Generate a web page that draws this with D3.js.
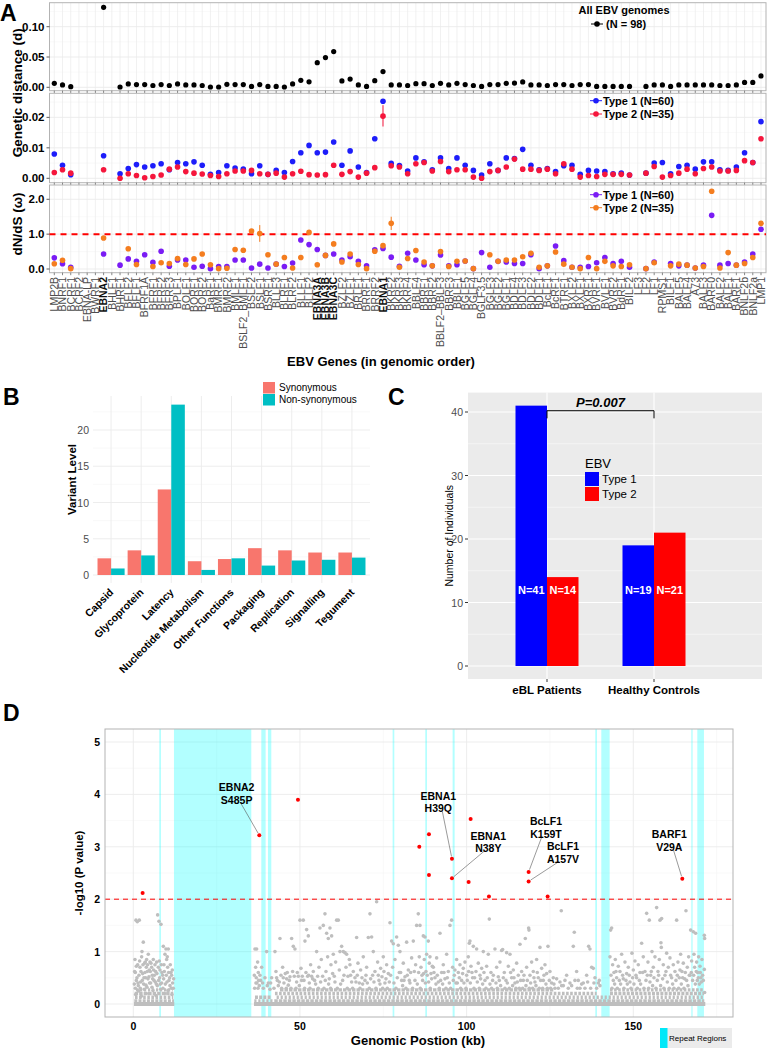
<!DOCTYPE html>
<html><head><meta charset="utf-8">
<script src="https://cdn.jsdelivr.net/npm/d3@7"></script>
<style>
body{margin:0;background:#fff;}
svg{font-family:"Liberation Sans",Arial,Helvetica,sans-serif;}
</style></head><body><svg id="c" width="767" height="1049"></svg>
<script>
// ---------------- DATA: Panel A ----------------
const genes = ["LMP2B","BNRF1","BCRF1","BCRF2","EBNA-LP","BWRF1","EBNA2","BHLF1","BHRF1","BFLF2","BFLF1","BFRF1A","BFRF1","BFRF2","BFRF3","BPLF1","BOLF1","BORF1","BORF2","BaRF1","BMRF1","BMRF2","BMLF1","BSLF2_BMLF1","BSLF2","BSLF1","BSRF1","BLLF3","BLRF1","BLRF2","BLLF1","BLLF2","EBNA3A","EBNA3B","EBNA3C","BZLF2","BZLF1","BRLF1","BRRF1","BRRF2","EBNA1","BKRF2","BKRF3","BKRF4","BBLF4","BBRF1","BBRF2","BBLF2–BBLF3","BBRF3","BBLF1","BGLF5","BGLF4","BGLF3.5","BGLF3","BGLF2","BGLF1","BDLF4","BDLF3","BDLF2","BDLF1","BcLF1","BcRF1","BTRF1","BXLF2","BXLF1","BXRF1","BVRF1","BVLF1","BVRF2","BdRF1","BILF2","LF3","LF2","LF1","RPMS1","BILF1","BALF5","BALF4","A73","BALF3","BARF0","BALF2","BALF1","BARF1","BNLF2b","BNLF2a","LMP1"];
const boldGenes = ["EBNA2","EBNA3A","EBNA3B","EBNA3C","EBNA1"];
const allD = [0.0066,0.004,0.001,null,null,null,0.132,null,0.0005,0.0055,
 0.0045,0.0045,0.003,0.0045,0.003,0.0055,0.004,0.004,0.003,0.0005,
 0.0005,0.005,0.0045,0.0045,0.0015,0.0045,0.0015,0.0015,0.0005,0.0055,
 0.0115,0.009,0.0407,0.049,0.059,0.0105,0.0135,0.004,0.0015,0.011,
 0.026,0.004,0.004,0.003,0.006,0.006,0.003,0.0066,0.004,0.0066,
 0.0045,0.003,0.0015,0.0045,0.0045,0.0066,0.007,0.0088,0.004,0.004,
 0.003,0.0045,0.0045,0.003,0.0045,0.0045,0.0015,0.0015,0.0015,0.0015,
 0.0015,null,0.0015,0.004,0.004,0.0015,0.004,0.004,0.004,0.004,
 0.004,0.003,0.003,0.004,0.008,0.008,0.0187];
const type1D = [0.0080,0.0043,0.0012,null,null,null,0.0074,null,0.0015,0.0032,
 0.0045,0.0037,0.0041,0.0048,0.0028,0.0052,0.0048,0.0054,0.0043,0.0013,
 0.0019,0.0041,0.0034,0.0030,0.0015,0.0041,0.0013,0.0026,0.0019,0.0055,
 0.0084,0.0108,0.0084,0.0086,0.0119,0.0043,0.0090,0.0037,0.0019,0.0130,
 0.0253,0.0049,0.0042,0.0024,0.0067,0.0054,0.0028,0.0067,0.0032,0.0067,
 0.0043,0.0026,0.0011,0.0048,0.0026,0.0067,0.0065,0.0095,0.0043,0.0028,
 0.0032,0.0022,0.0041,0.0043,0.0013,0.0026,0.0024,0.0022,0.0015,0.0017,
 0.0011,null,0.0017,0.0050,0.0052,0.0015,0.0039,0.0043,0.0030,0.0054,
 0.0054,0.0028,0.0026,0.0037,0.0084,0.0052,0.0186];
const type2D = [0.0019,0.0028,0.0017,null,null,null,0.0028,null,0.0000,0.0015,
 0.0009,0.0002,0.0006,0.0011,0.0030,0.0037,0.0022,0.0017,0.0014,0.0009,
 0.0006,0.0015,0.0024,0.0024,0.0026,0.0015,0.0013,0.0017,0.0004,0.0015,
 0.0023,0.0012,0.0011,0.0012,0.0043,0.0013,0.0022,0.0004,0.0017,0.0035,
 0.0204,0.0041,0.0037,0.0015,0.0048,0.0052,0.0024,0.0055,0.0022,0.0028,
 0.0028,0.0004,0.0000,0.0022,0.0026,0.0037,0.0063,0.0030,0.0030,0.0026,
 0.0030,0.0015,0.0048,0.0030,0.0004,0.0009,0.0006,0.0013,0.0013,0.0013,
 0.0011,null,0.0017,0.0039,0.0004,0.0009,0.0017,0.0030,0.0015,0.0032,
 0.0037,0.0024,0.0024,0.0026,0.0058,0.0052,0.0130];
const type1W = [0.32,0.15,0.05,null,null,null,0.43,null,0.11,0.29,
 0.22,0.41,0.19,0.51,0.08,0.26,0.26,0.05,0.08,0.01,
 0.07,0.07,0.26,0.26,0.03,0.14,0.03,0.14,0.07,0.17,
 0.83,0.70,0.56,0.39,0.43,0.26,0.35,0.22,0.09,0.55,
 0.59,0.34,0.08,0.45,0.26,0.12,0.09,0.40,0.09,0.12,
 0.23,0.01,0.47,0.05,0.22,0.20,0.16,0.16,0.41,0.01,
 0.09,0.66,0.24,0.05,0.05,0.07,0.18,0.33,0.16,0.22,
 0.05,null,0.01,0.20,null,0.16,0.09,0.11,0.03,0.11,
 1.54,0.11,0.16,0.11,0.20,0.43,1.14];
const type2W = [0.15,0.25,0.01,null,null,null,0.89,null,null,0.58,
 0.13,null,0.07,0.18,0.16,0.30,0.13,0.29,0.43,0.12,
 0.01,0.02,0.56,0.54,1.09,1.02,0.41,0.14,0.33,0.03,
 0.33,1.05,0.12,0.39,0.72,0.20,0.43,0.13,0.01,0.51,
 0.67,1.31,0.05,0.30,0.53,0.20,0.09,0.50,0.07,0.22,
 0.23,0.01,null,0.41,0.22,0.26,0.26,0.35,0.45,0.05,
 0.09,0.49,0.14,0.05,0.01,0.33,0.01,0.22,0.09,0.07,
 0.12,null,0.01,0.18,null,0.09,0.14,0.11,0.03,0.07,
 2.23,0.03,0.47,0.11,0.16,0.33,1.31];
const errType2D = [["EBNA1",0.0170,0.0240]];
const errType2W = [["BSLF1",0.78,1.26],["BKRF2",1.12,1.50]];
const ticksAll = [0,0.05,0.10], ticksType = [0,0.01,0.02], ticksW = [0,1,2];

// ---------------- DATA: Panel B ----------------
const funcCats = ["Capsid","Glycoprotein","Latency","Nucleotide Metabolism","Other Functions","Packaging","Replication","Signalling","Tegument"];
const synVals = [2.3,3.4,11.8,1.9,2.2,3.7,3.4,3.1,3.1];
const nonSynVals = [0.9,2.7,23.5,0.7,2.3,1.3,2.0,2.1,2.4];
const ticksB = [0,5,10,15,20];

// ---------------- DATA: Panel C ----------------
const groupsC = ["eBL Patients","Healthy Controls"];
const type1Counts = [41,19];
const type2Counts = [14,21];
const ticksC = [0,10,20,30,40];

// ---------------- DATA: Panel D ----------------
const repeatRegions = [[7.8,8.3],[12.2,35.4],[38.4,39.7],[40.4,41.4],[77.8,78.3],[87.6,88.1],[95.8,96.4],[138.6,139.1],[140.4,142.9],[167.4,167.8],[169.2,171.2]];
const zeroRuns = [[0.2,12.3],[36.2,171.6]];
const lowBands = [[0.06,0.3,12.2],[0.06,36.3,41.8],[0.06,42.3,171.3],[0.13,0.5,12],[0.13,36.5,41.5],[0.13,43,171],[0.2,0.4,12],[0.2,42.5,139],[0.2,143,171.2],[0.27,0.8,11.8],[0.27,44,126],[0.27,143,171]];
const grayPtsStr = "0.3,0.38 0.5,0.85 0.6,0.6 0.8,1.6 0.9,0.45 1.2,1.57 1.3,0.75 1.5,0.35 1.7,0.55 1.8,1.6 2.0,0.7 2.2,0.42 2.5,0.9 2.6,1.0 2.8,0.58 3.0,1.18 3.2,0.5 3.4,0.78 3.6,0.8 3.8,0.36 4.0,0.85 4.2,0.62 4.4,0.48 4.5,0.95 4.8,0.65 5.0,0.8 5.2,0.4 5.5,0.7 5.7,0.55 6.0,0.85 6.2,0.45 6.5,0.75 6.7,0.62 6.9,0.38 7.0,0.8 7.3,1.7 7.5,0.7 7.7,1.58 7.9,0.5 8.0,0.65 8.3,1.52 8.5,0.4 8.8,0.55 9.0,1.1 9.2,0.75 9.5,0.95 9.8,1.05 10.0,0.85 10.2,0.9 10.5,1.05 10.7,0.45 11.0,0.35 11.3,0.6 11.5,0.55 11.8,0.4 12.0,0.3 0.7,0.18 1.6,0.25 2.4,0.15 3.3,0.28 4.6,0.2 5.9,0.26 6.8,0.16 8.2,0.28 9.4,0.2 10.4,0.26 11.6,0.18 " +
"36.3,0.55 36.5,1.05 36.8,0.4 37.0,1.05 37.3,0.8 37.5,0.6 37.8,0.35 38.2,0.45 38.5,0.7 39.0,0.3 40.0,1.0 40.5,0.4 41.0,0.28 41.5,0.5 " +
"42.5,1.0 42.8,0.62 43.2,0.45 43.5,0.35 44.0,1.25 44.3,0.55 44.8,0.7 45.2,0.4 45.6,0.58 46.0,0.48 46.5,0.36 47.0,0.52 47.5,1.25 47.8,0.62 48.0,1.1 48.3,0.53 48.5,1.05 49.0,0.42 49.5,0.53 50.0,1.6 50.3,0.68 50.7,0.53 51.0,1.6 51.2,0.45 51.5,1.2 51.8,0.6 52.0,1.42 52.3,0.53 52.5,1.3 52.8,0.4 53.2,0.75 53.5,0.53 54.0,0.62 54.4,0.45 55.0,1.0 55.3,0.53 55.7,0.7 56.0,1.45 56.4,0.85 56.8,0.53 57.0,1.5 57.5,1.72 57.8,0.62 58.0,1.35 58.3,0.9 58.5,1.25 58.8,0.48 59.0,1.45 59.3,0.75 59.5,1.3 59.8,0.58 60.0,0.95 60.3,0.53 60.7,0.8 61.0,1.6 61.5,1.6 61.8,0.65 62.0,1.0 62.5,1.1 62.8,0.45 63.0,1.0 63.5,0.98 63.8,0.7 64.0,0.95 64.4,0.53 64.8,0.85 65.0,0.75 65.5,0.42 66.0,0.62 66.5,0.5 67.0,1.27 67.4,0.78 67.8,0.4 68.2,0.65 68.6,0.5 69.0,0.9 69.5,0.45 70.0,0.7 70.5,1.27 71.0,1.72 71.5,1.28 71.8,0.55 72.0,1.0 72.5,0.62 73.0,1.95 73.3,0.8 73.7,0.45 74.2,0.68 74.6,0.52 75.0,0.9 75.5,0.4 76.0,0.75 76.5,0.58 77.0,1.55 77.5,1.2 77.8,0.7 78.0,1.15 78.5,0.85 79.0,1.28 79.5,1.12 79.8,0.6 80.0,1.0 80.5,0.45 81.0,0.78 81.5,0.52 82.0,1.18 82.5,0.65 83.0,0.4 83.5,0.88 84.0,1.2 84.3,0.62 84.7,0.75 85.0,1.5 85.5,1.72 85.8,0.9 86.0,1.5 86.3,0.7 86.6,0.55 87.0,1.3 87.3,0.85 87.5,1.28 87.8,0.62 88.0,0.95 88.5,1.2 88.8,0.78 89.0,0.9 89.3,0.58 89.7,0.72 90.0,0.7 90.5,0.5 91.0,0.88 91.5,0.42 92.0,1.35 92.5,0.6 93.0,0.75 93.5,0.48 94.0,0.95 94.5,0.62 95.0,1.5 95.5,1.6 95.8,0.7 96.3,0.55 96.8,0.4 97.0,0.85 97.5,0.6 98.0,0.75 98.5,0.45 99.0,0.68 99.5,0.8 100.0,0.55 100.5,0.9 100.8,1.16 101.0,1.2 101.3,0.72 101.6,0.6 102.0,1.1 102.4,0.5 103.0,1.05 103.5,0.78 104.0,0.55 104.5,0.68 105.0,1.0 105.5,0.45 106.0,0.72 106.5,0.95 106.8,1.62 107.3,0.6 107.8,0.45 108.5,1.05 109.0,0.7 109.5,0.52 110.0,0.8 110.5,1.02 110.8,1.04 111.3,0.6 111.8,0.45 112.0,0.98 112.5,0.72 113.0,0.95 113.5,0.5 114.0,0.65 114.5,0.4 115.0,0.78 115.5,0.55 116.0,1.14 116.5,0.62 117.0,0.45 117.6,1.25 118.0,0.7 118.6,1.45 118.7,1.41 119.0,0.55 119.5,0.8 120.0,0.62 120.5,0.42 121.0,0.85 121.5,0.5 122.0,1.08 122.5,0.68 123.0,0.45 123.5,0.75 124.0,0.58 124.4,1.1 125.0,0.62 125.5,0.4 126.0,0.5 126.5,0.3 127.0,0.48 128.0,0.42 128.4,1.78 129.0,0.35 130.0,0.55 131.0,0.4 132.0,1.1 132.3,1.37 133.0,0.62 133.5,0.45 134.0,0.3 135.0,0.4 136.0,0.55 136.6,1.1 137.0,1.05 137.5,0.7 138.0,0.68 138.5,0.5 139.5,0.4 140.0,0.35 " +
"143.0,0.9 143.2,1.41 143.5,1.45 143.8,0.75 144.2,0.6 144.6,0.85 145.0,0.5 145.5,0.72 146.0,0.62 146.5,0.95 147.0,0.48 147.5,0.8 148.0,0.58 148.5,0.7 149.0,0.42 149.6,0.97 150.0,0.65 150.5,0.82 151.0,0.5 151.5,0.75 152.0,0.6 152.5,1.16 153.0,0.9 153.5,0.62 154.0,1.73 154.4,0.8 154.8,1.6 155.2,0.55 155.6,1.0 156.0,0.7 156.5,0.9 157.0,1.84 157.4,0.62 157.8,0.85 158.0,1.6 158.3,1.17 158.4,1.08 158.5,1.63 159.0,0.75 159.5,0.55 160.0,0.97 160.5,0.7 161.0,0.88 161.5,0.5 162.0,0.75 162.5,0.62 163.0,1.6 163.4,0.8 163.8,0.5 164.2,0.95 164.6,0.62 165.0,0.78 165.4,0.48 165.8,1.78 166.2,0.7 166.6,0.9 167.0,0.55 167.2,1.41 167.5,0.82 168.0,1.38 168.2,0.95 168.4,0.7 168.7,1.35 169.0,0.8 169.3,0.6 169.6,0.9 170.0,0.72 170.3,0.5 170.6,0.85 171.3,1.31 171.4,1.25 171.3,0.66 171.4,0.22 " +
"0.4,0.62 0.6,0.3 0.9,0.72 1.1,0.5 1.4,0.4 1.9,0.82 2.1,0.3 2.3,0.62 2.7,0.45 2.9,0.75 3.1,0.38 3.5,0.6 3.7,0.5 3.9,0.7 4.1,0.32 4.3,0.75 4.7,0.52 4.9,0.4 5.1,0.62 5.3,0.78 5.6,0.32 5.8,0.48 6.1,0.65 6.3,0.55 6.6,0.42 7.1,0.58 7.2,0.35 7.6,0.45 7.8,0.82 8.1,0.38 8.4,0.75 8.6,0.6 8.9,0.3 9.1,0.48 9.3,0.62 9.6,0.38 9.9,0.55 10.1,0.42 10.3,0.7 10.6,0.6 10.9,0.5 11.1,0.75 11.4,0.3 11.7,0.65 12.1,0.48 " +
"36.4,0.3 36.7,0.7 36.9,0.5 37.1,0.4 37.4,0.3 37.6,0.45 38.0,0.55 38.8,0.4 39.5,0.5 40.2,0.35 41.2,0.4 " +
"42.2,0.3 43.0,0.5 43.8,0.42 44.5,0.3 45.0,0.5 45.9,0.3 46.2,0.6 46.8,0.45 47.3,0.3 48.8,0.3 49.2,0.6 49.8,0.35 50.5,0.45 51.4,0.3 52.6,0.55 53.0,0.3 53.8,0.48 54.7,0.38 55.5,0.3 56.2,0.42 57.2,0.3 57.6,0.45 58.6,0.38 59.2,0.3 60.5,0.42 61.2,0.3 62.2,0.38 63.2,0.55 64.2,0.3 65.2,0.55 65.8,0.3 66.8,0.42 67.2,0.55 68.0,0.3 68.8,0.38 69.8,0.55 70.2,0.4 70.8,0.3 71.2,0.48 72.2,0.42 72.8,0.3 73.5,0.55 74.0,0.38 74.8,0.3 75.2,0.62 75.8,0.48 76.2,0.3 76.8,0.42 77.2,0.55 78.2,0.4 78.8,0.3 79.2,0.5 80.2,0.6 80.8,0.35 81.2,0.45 81.8,0.3 82.2,0.55 82.8,0.45 83.2,0.6 83.8,0.3 84.5,0.45 85.2,0.38 85.6,0.6 86.1,0.3 86.8,0.45 87.1,0.58 87.6,0.4 88.2,0.55 88.6,0.42 89.1,0.3 89.5,0.48 90.2,0.6 90.8,0.38 91.2,0.55 91.8,0.3 92.2,0.45 92.8,0.38 93.2,0.6 93.8,0.3 94.2,0.5 94.8,0.4 95.2,0.3 96.0,0.45 96.5,0.65 97.2,0.4 97.8,0.5 98.2,0.3 98.8,0.58 99.2,0.4 99.8,0.3 100.2,0.45 100.6,0.62 101.1,0.4 101.8,0.5 102.2,0.3 102.8,0.62 103.2,0.42 103.8,0.3 104.2,0.48 104.8,0.38 105.2,0.6 105.8,0.3 106.2,0.5 107.0,0.38 107.5,0.3 108.0,0.55 108.8,0.4 109.2,0.3 109.8,0.45 110.2,0.35 111.0,0.5 111.5,0.3 112.2,0.4 112.8,0.3 113.2,0.6 113.8,0.35 114.2,0.5 114.8,0.3 115.2,0.42 115.8,0.3 116.2,0.45 116.8,0.3 117.2,0.55 117.8,0.35 118.2,0.45 118.8,0.3 119.2,0.4 119.8,0.3 120.2,0.5 120.8,0.35 121.2,0.6 121.8,0.3 122.2,0.45 122.8,0.3 123.2,0.55 123.8,0.38 124.2,0.3 124.8,0.45 125.2,0.3 126.2,0.38 127.5,0.3 128.5,0.35 129.5,0.45 130.5,0.3 131.5,0.35 132.5,0.45 133.2,0.3 134.5,0.38 135.5,0.3 136.3,0.42 137.2,0.3 138.2,0.4 139.0,0.3 139.8,0.45 " +
"143.3,0.55 143.6,0.3 144.0,0.45 144.4,0.38 144.8,0.62 145.2,0.3 145.8,0.45 146.2,0.38 146.8,0.55 147.2,0.3 147.8,0.45 148.2,0.38 148.8,0.55 149.3,0.3 149.8,0.5 150.2,0.38 150.8,0.55 151.2,0.3 151.8,0.45 152.2,0.38 152.8,0.6 153.2,0.3 153.8,0.45 154.2,0.55 154.6,0.3 155.0,0.42 155.4,0.62 155.8,0.35 156.2,0.5 156.8,0.3 157.2,0.45 157.6,0.55 158.2,0.35 158.8,0.48 159.2,0.3 159.8,0.62 160.2,0.42 160.8,0.3 161.2,0.55 161.8,0.38 162.2,0.3 162.8,0.45 163.2,0.55 163.6,0.3 164.0,0.65 164.4,0.38 164.8,0.5 165.2,0.3 165.6,0.6 166.0,0.45 166.4,0.35 166.8,0.55 167.4,0.6 167.8,0.45 168.1,0.55 168.6,0.38 168.9,0.62 169.2,0.45 169.5,0.5 169.8,0.38 170.1,0.6 170.4,0.42 170.8,0.55 171.0,0.45";
const grayPts = grayPtsStr.trim().split(/\s+/).map(s => s.split(",").map(Number));
const sigKb = [2.8,37.8,49.4,85.8,88.7,88.7,95.6,95.6,101.2,100.6,106.7,118.6,118.6,124.3,164.7];
const sigP  = [2.12,3.22,3.90,3.00,3.24,2.46,2.77,2.40,3.53,2.33,2.05,2.52,2.34,2.05,2.39];
const annotations = [
  {gene:"EBNA2", mut:"S485P", kb:37.8, p:3.22, lx:31.0, ly:4.01},
  {gene:"EBNA1", mut:"H39Q", kb:95.6, p:2.77, lx:91.5, ly:3.85},
  {gene:"EBNA1", mut:"N38Y", kb:95.6, p:2.40, lx:106.5, ly:3.09},
  {gene:"BcLF1", mut:"K159T", kb:118.6, p:2.52, lx:123.8, ly:3.37},
  {gene:"BcLF1", mut:"A157V", kb:118.6, p:2.34, lx:128.9, ly:2.89},
  {gene:"BARF1", mut:"V29A", kb:164.7, p:2.39, lx:160.8, ly:3.12}
];
const ticksDx = [0,50,100,150], ticksDy = [0,1,2,3,4,5];

// ---------------- DRAW ----------------
const svg = d3.select("#c");
const GRID = "#ebebeb", GRIDMINOR = "#f5f5f5", BORDER = "#b3b3b3";

function letter(t,x,y){ svg.append("text").attr("x",x).attr("y",y).attr("font-size",23).attr("font-weight","bold").text(t); }

// ===== Panel A =====
letter("A",0,21);
const xA = d3.scalePoint().domain(genes).range([54.3,761]);
const aLeft = 49.5, aRight = 766;
const facets = [
  {top:2.7, bottom:90.7, dom:[-0.0056,0.1396], ticks:ticksAll, fmt:d3.format(".2f")},
  {top:93.3, bottom:182.7, dom:[-0.00144,0.0279], ticks:ticksType, fmt:d3.format(".2f")},
  {top:185, bottom:272.7, dom:[-0.106,2.41], ticks:ticksW, fmt:d3.format(".1f")}
];
facets.forEach(f => {
  f.y = d3.scaleLinear().domain(f.dom).range([f.bottom,f.top]);
  const g = svg.append("g");
  g.append("rect").attr("x",aLeft).attr("y",f.top).attr("width",aRight-aLeft).attr("height",f.bottom-f.top).attr("fill","#fff");
  const step = f.ticks[1]-f.ticks[0];
  const minors = f.ticks.map(t=>t+step/2).filter(v=>v<f.dom[1]);
  g.selectAll(".mn").data(minors).enter().append("line").attr("x1",aLeft).attr("x2",aRight)
    .attr("y1",d=>f.y(d)).attr("y2",d=>f.y(d)).attr("stroke",GRIDMINOR).attr("stroke-width",0.6);
  g.selectAll(".mj").data(f.ticks).enter().append("line").attr("x1",aLeft).attr("x2",aRight)
    .attr("y1",d=>f.y(d)).attr("y2",d=>f.y(d)).attr("stroke",GRID).attr("stroke-width",0.9);
  g.selectAll(".vg").data(genes).enter().append("line").attr("x1",d=>xA(d)).attr("x2",d=>xA(d))
    .attr("y1",f.top).attr("y2",f.bottom).attr("stroke",GRID).attr("stroke-width",0.7);
  g.append("rect").attr("x",aLeft).attr("y",f.top).attr("width",aRight-aLeft).attr("height",f.bottom-f.top)
    .attr("fill","none").attr("stroke",BORDER).attr("stroke-width",1);
  g.selectAll(".yt").data(f.ticks).enter().append("line").attr("x1",aLeft-3).attr("x2",aLeft)
    .attr("y1",d=>f.y(d)).attr("y2",d=>f.y(d)).attr("stroke","#333").attr("stroke-width",0.8);
  g.selectAll(".yl").data(f.ticks).enter().append("text").attr("x",aLeft-5).attr("y",d=>f.y(d)+4)
    .attr("text-anchor","end").attr("font-size",11.5).attr("font-weight","bold").text(d=>f.fmt(d));
  g.selectAll(".xt").data(genes).enter().append("line").attr("x1",d=>xA(d)).attr("x2",d=>xA(d))
    .attr("y1",f.bottom).attr("y2",f.bottom+2.5).attr("stroke","#555").attr("stroke-width",0.7);
});
const [fAll,fType,fW] = facets;
const R = 2.8;
svg.append("g").selectAll("circle").data(genes.map((g,i)=>[g,allD[i]]).filter(d=>d[1]!==null))
  .enter().append("circle").attr("cx",d=>xA(d[0])).attr("cy",d=>fAll.y(d[1])).attr("r",R-0.2).attr("fill","#000");
const BLUE="#1d1dfa", RED="#f5163c", PURPLE="#7a1cf4", ORANGE="#f47d1f";
svg.append("g").selectAll("circle").data(genes.map((g,i)=>[g,type1D[i]]).filter(d=>d[1]!==null))
  .enter().append("circle").attr("cx",d=>xA(d[0])).attr("cy",d=>fType.y(d[1])).attr("r",R).attr("fill",BLUE);
svg.append("g").selectAll("line").data(errType2D).enter().append("line")
  .attr("x1",d=>xA(d[0])).attr("x2",d=>xA(d[0])).attr("y1",d=>fType.y(d[1])).attr("y2",d=>fType.y(d[2])).attr("stroke",RED).attr("stroke-width",1);
svg.append("g").selectAll("circle").data(genes.map((g,i)=>[g,type2D[i]]).filter(d=>d[1]!==null))
  .enter().append("circle").attr("cx",d=>xA(d[0])).attr("cy",d=>fType.y(d[1])).attr("r",R).attr("fill",RED);
svg.append("line").attr("x1",aLeft).attr("x2",aRight).attr("y1",fW.y(1)).attr("y2",fW.y(1))
  .attr("stroke","#ff0000").attr("stroke-width",2).attr("stroke-dasharray","6,5");
svg.append("g").selectAll("circle").data(genes.map((g,i)=>[g,type1W[i]]).filter(d=>d[1]!==null))
  .enter().append("circle").attr("cx",d=>xA(d[0])).attr("cy",d=>fW.y(d[1])).attr("r",R).attr("fill",PURPLE);
svg.append("g").selectAll("line").data(errType2W).enter().append("line")
  .attr("x1",d=>xA(d[0])).attr("x2",d=>xA(d[0])).attr("y1",d=>fW.y(d[1])).attr("y2",d=>fW.y(d[2])).attr("stroke",ORANGE).attr("stroke-width",1);
svg.append("g").selectAll("circle").data(genes.map((g,i)=>[g,type2W[i]]).filter(d=>d[1]!==null))
  .enter().append("circle").attr("cx",d=>xA(d[0])).attr("cy",d=>fW.y(d[1])).attr("r",R).attr("fill",ORANGE);
function legKey(x,y,col){
  svg.append("line").attr("x1",x-6).attr("x2",x+6).attr("y1",y).attr("y2",y).attr("stroke",col).attr("stroke-width",1);
  svg.append("circle").attr("cx",x).attr("cy",y).attr("r",2.8).attr("fill",col);
}
svg.append("text").attr("x",624).attr("y",14).attr("text-anchor","middle").attr("font-size",11).attr("font-weight","bold").text("All EBV genomes");
legKey(597,24,"#000");
svg.append("text").attr("x",606).attr("y",28).attr("font-size",11).attr("font-weight","bold").text("(N = 98)");
[[100.7,BLUE,"Type 1 (N=60)"],[114,RED,"Type 2 (N=35)"],[194.7,PURPLE,"Type 1 (N=60)"],[207.7,ORANGE,"Type 2 (N=35)"]].forEach(d=>{
  legKey(596,d[0],d[1]);
  svg.append("text").attr("x",603).attr("y",d[0]+4).attr("font-size",11).attr("font-weight","bold").text(d[2]);
});
svg.append("text").attr("transform",`translate(22,${(fAll.top+fType.bottom)/2}) rotate(-90)`).attr("text-anchor","middle")
  .attr("font-size",13.5).attr("font-weight","bold").text("Genetic distance (d)");
svg.append("text").attr("transform",`translate(22,224) rotate(-90)`).attr("text-anchor","middle")
  .attr("font-size",13.5).attr("font-weight","bold").text("dN/dS (ω)");
svg.append("g").selectAll("text").data(genes).enter().append("text")
  .attr("transform",d=>`translate(${xA(d)+3.8},277) rotate(-90)`).attr("text-anchor","end")
  .attr("font-size",10.5).attr("fill",d=>boldGenes.includes(d)?"#111":"#4d4d4d")
  .attr("font-weight",d=>boldGenes.includes(d)?"bold":"normal").text(d=>d);
svg.append("text").attr("x",381).attr("y",366).attr("text-anchor","middle").attr("font-size",13).attr("font-weight","bold").text("EBV Genes (in genomic order)");

// ===== Panel B =====
letter("B",3,405);
const bL=93,bR=370,bT=396,bB=583;
const xB = d3.scaleBand().domain(funcCats).range([bL,bR]).paddingInner(0.1).paddingOuter(0.15);
const yB = d3.scaleLinear().domain([0,20]).range([575,430]);
const gB = svg.append("g");
gB.selectAll(".mn").data([2.5,7.5,12.5,17.5,22.5]).enter().append("line").attr("x1",bL).attr("x2",bR)
  .attr("y1",d=>yB(d)).attr("y2",d=>yB(d)).attr("stroke",GRIDMINOR).attr("stroke-width",0.6);
gB.selectAll(".mj").data(ticksB).enter().append("line").attr("x1",bL).attr("x2",bR)
  .attr("y1",d=>yB(d)).attr("y2",d=>yB(d)).attr("stroke",GRID).attr("stroke-width",0.9);
gB.selectAll(".vg").data(funcCats).enter().append("line").attr("x1",d=>xB(d)+xB.bandwidth()/2).attr("x2",d=>xB(d)+xB.bandwidth()/2)
  .attr("y1",bT).attr("y2",bB).attr("stroke",GRID).attr("stroke-width",0.9);
const SAL="#F8766D", TEAL="#00BFC4";
gB.selectAll(".bs").data(funcCats).enter().append("rect").attr("x",d=>xB(d)).attr("width",xB.bandwidth()/2)
  .attr("y",(d,i)=>yB(synVals[i])).attr("height",(d,i)=>yB(0)-yB(synVals[i])).attr("fill",SAL);
gB.selectAll(".bn").data(funcCats).enter().append("rect").attr("x",d=>xB(d)+xB.bandwidth()/2).attr("width",xB.bandwidth()/2)
  .attr("y",(d,i)=>yB(nonSynVals[i])).attr("height",(d,i)=>yB(0)-yB(nonSynVals[i])).attr("fill",TEAL);
gB.selectAll(".yl").data(ticksB).enter().append("text").attr("x",bL-4).attr("y",d=>yB(d)+4).attr("text-anchor","end")
  .attr("font-size",10.5).attr("fill","#4d4d4d").text(d=>d);
gB.selectAll(".xl").data(funcCats).enter().append("text")
  .attr("transform",d=>`translate(${xB(d)+xB.bandwidth()/2+3},${bB+10}) rotate(-45)`).attr("text-anchor","end")
  .attr("font-size",10.5).attr("font-weight","bold").text(d=>d);
svg.append("text").attr("transform",`translate(76,${(bT+bB)/2-10}) rotate(-90)`).attr("text-anchor","middle")
  .attr("font-size",11.5).attr("font-weight","bold").text("Variant Level");
[["Synonymous",SAL,382],["Non-synonymous",TEAL,394]].forEach(d=>{
  svg.append("rect").attr("x",263).attr("y",d[2]).attr("width",12).attr("height",11.5).attr("fill",d[1]);
  svg.append("text").attr("x",279).attr("y",d[2]+9).attr("font-size",10).text(d[0]);
});

// ===== Panel C =====
letter("C",388,405);
const cL=468,cR=762,cT=392.6,cB=679;
const yC = d3.scaleLinear().domain([0,40]).range([666,412]);
const xC = d3.scalePoint().domain(groupsC).range([547,654]);
const barW = 31.5;
const gC = svg.append("g");
gC.append("rect").attr("x",cL).attr("y",cT).attr("width",cR-cL).attr("height",cB-cT).attr("fill","#ebebeb");
gC.selectAll(".mn").data([5,15,25,35]).enter().append("line").attr("x1",cL).attr("x2",cR)
  .attr("y1",d=>yC(d)).attr("y2",d=>yC(d)).attr("stroke","#fff").attr("stroke-width",0.5);
gC.selectAll(".mj").data(ticksC).enter().append("line").attr("x1",cL).attr("x2",cR)
  .attr("y1",d=>yC(d)).attr("y2",d=>yC(d)).attr("stroke","#fff").attr("stroke-width",1.1);
gC.selectAll(".vg").data(groupsC).enter().append("line").attr("x1",d=>xC(d)).attr("x2",d=>xC(d))
  .attr("y1",cT).attr("y2",cB).attr("stroke","#fff").attr("stroke-width",1.1);
gC.selectAll(".b1").data(groupsC).enter().append("rect").attr("x",d=>xC(d)-barW).attr("width",barW)
  .attr("y",(d,i)=>yC(type1Counts[i])).attr("height",(d,i)=>yC(0)-yC(type1Counts[i])).attr("fill","#0000ff");
gC.selectAll(".b2").data(groupsC).enter().append("rect").attr("x",d=>xC(d)).attr("width",barW)
  .attr("y",(d,i)=>yC(type2Counts[i])).attr("height",(d,i)=>yC(0)-yC(type2Counts[i])).attr("fill","#ff0000");
gC.selectAll(".n1").data(groupsC).enter().append("text").attr("x",d=>xC(d)-barW/2).attr("y",yC(12)+4)
  .attr("text-anchor","middle").attr("font-size",11).attr("font-weight","bold").attr("fill","#fff").text((d,i)=>"N="+type1Counts[i]);
gC.selectAll(".n2").data(groupsC).enter().append("text").attr("x",d=>xC(d)+barW/2).attr("y",yC(12)+4)
  .attr("text-anchor","middle").attr("font-size",11).attr("font-weight","bold").attr("fill","#fff").text((d,i)=>"N="+type2Counts[i]);
gC.selectAll(".yt").data(ticksC).enter().append("line").attr("x1",cL-3).attr("x2",cL).attr("y1",d=>yC(d)).attr("y2",d=>yC(d)).attr("stroke","#333");
gC.selectAll(".yl").data(ticksC).enter().append("text").attr("x",cL-5).attr("y",d=>yC(d)+4).attr("text-anchor","end")
  .attr("font-size",10.5).attr("fill","#4d4d4d").text(d=>d);
gC.selectAll(".xt").data(groupsC).enter().append("line").attr("x1",d=>xC(d)).attr("x2",d=>xC(d)).attr("y1",cB).attr("y2",cB+3).attr("stroke","#333");
gC.selectAll(".xl").data(groupsC).enter().append("text").attr("x",d=>xC(d)).attr("y",cB+15).attr("text-anchor","middle")
  .attr("font-size",11.5).attr("font-weight","bold").text(d=>d);
svg.append("text").attr("transform",`translate(453,${(cT+cB)/2}) rotate(-90)`).attr("text-anchor","middle")
  .attr("font-size",10.5).text("Number of Individuals");
const brY = yC(40.2), brD = yC(39);
svg.append("path").attr("d",`M${xC(groupsC[0])},${brD}V${brY}H${xC(groupsC[1])}V${brD}`).attr("fill","none").attr("stroke","#000").attr("stroke-width",1);
svg.append("text").attr("x",(xC(groupsC[0])+xC(groupsC[1]))/2).attr("y",brY-4).attr("text-anchor","middle")
  .attr("font-size",13).attr("font-weight","bold").attr("font-style","italic").text("P=0.007");
svg.append("text").attr("x",585).attr("y",468).attr("font-size",13).text("EBV");
[["Type 1","#0000ff",472],["Type 2","#ff0000",487]].forEach(d=>{
  svg.append("rect").attr("x",585).attr("y",d[2]).attr("width",14).attr("height",14).attr("fill",d[1]);
  svg.append("text").attr("x",602).attr("y",d[2]+11).attr("font-size",11.5).text(d[0]);
});

// ===== Panel D =====
letter("D",3,721);
const dL=105,dR=733,dT=729,dB=1017;
const xD = d3.scaleLinear().domain([0,150]).range([133.3,633.3]);
const yD = d3.scaleLinear().domain([0,5]).range([1004,742]);
const gD = svg.append("g");
gD.selectAll(".mnx").data([25,75,125,175]).enter().append("line").attr("x1",d=>xD(d)).attr("x2",d=>xD(d)).attr("y1",dT).attr("y2",dB).attr("stroke",GRIDMINOR).attr("stroke-width",0.6);
gD.selectAll(".mny").data([0.5,1.5,2.5,3.5,4.5]).enter().append("line").attr("x1",dL).attr("x2",dR).attr("y1",d=>yD(d)).attr("y2",d=>yD(d)).attr("stroke",GRIDMINOR).attr("stroke-width",0.6);
gD.selectAll(".mjx").data(ticksDx).enter().append("line").attr("x1",d=>xD(d)).attr("x2",d=>xD(d)).attr("y1",dT).attr("y2",dB).attr("stroke",GRID).attr("stroke-width",0.9);
gD.selectAll(".mjy").data(ticksDy).enter().append("line").attr("x1",dL).attr("x2",dR).attr("y1",d=>yD(d)).attr("y2",d=>yD(d)).attr("stroke",GRID).attr("stroke-width",0.9);
gD.selectAll(".rr").data(repeatRegions).enter().append("rect").attr("x",d=>xD(d[0])).attr("width",d=>Math.max(1.3,xD(d[1])-xD(d[0])))
  .attr("y",dT).attr("height",dB-dT).attr("fill","#00ffff").attr("opacity",0.3);
gD.selectAll(".zr").data(zeroRuns).enter().append("line").attr("x1",d=>xD(d[0])).attr("x2",d=>xD(d[1]))
  .attr("y1",yD(0)).attr("y2",yD(0)).attr("stroke","#bebebe").attr("stroke-width",3.8);
gD.selectAll(".lb").data(lowBands).enter().append("line").attr("x1",d=>xD(d[1])).attr("x2",d=>xD(d[2]))
  .attr("y1",d=>yD(d[0])).attr("y2",d=>yD(d[0])).attr("stroke","#bebebe").attr("stroke-width",3.4)
  .attr("stroke-dasharray",(d,i)=>["3,1.2","2.2,1.8","3.5,1","2.6,1.5"][i%4]);
gD.selectAll(".gp").data(grayPts).enter().append("circle").attr("cx",d=>xD(d[0])).attr("cy",d=>yD(d[1])).attr("r",1.8).attr("fill","#bebebe");
gD.append("line").attr("x1",dL).attr("x2",dR).attr("y1",yD(2)).attr("y2",yD(2)).attr("stroke","#ff0000").attr("stroke-width",1).attr("stroke-dasharray","5,4");
annotations.forEach(a=>{
  const px=xD(a.kb), py=yD(a.p), lx=xD(a.lx), ly=yD(a.ly);
  const sx = lx + Math.sign(px-lx)*4, sy = ly+9;
  const dx=px-sx, dy=py-sy, L=Math.hypot(dx,dy);
  gD.append("line").attr("x1",sx).attr("y1",sy).attr("x2",px-dx/L*2.5).attr("y2",py-dy/L*2.5).attr("stroke","#555").attr("stroke-width",0.6);
  gD.append("text").attr("x",lx).attr("y",ly-2.5).attr("text-anchor","middle").attr("font-size",10.5).attr("font-weight","bold").text(a.gene);
  gD.append("text").attr("x",lx).attr("y",ly+10.2).attr("text-anchor","middle").attr("font-size",10.5).attr("font-weight","bold").text(a.mut);
});
gD.selectAll(".sp").data(sigKb).enter().append("circle").attr("cx",d=>xD(d)).attr("cy",(d,i)=>yD(sigP[i])).attr("r",2).attr("fill","#ff0000");
gD.append("rect").attr("x",dL).attr("y",dT).attr("width",dR-dL).attr("height",dB-dT).attr("fill","none").attr("stroke",BORDER);
gD.selectAll(".yl").data(ticksDy).enter().append("text").attr("x",dL-5).attr("y",d=>yD(d)+4).attr("text-anchor","end")
  .attr("font-size",10.5).attr("font-weight","bold").text(d=>d);
gD.selectAll(".xl").data(ticksDx).enter().append("text").attr("x",d=>xD(d)).attr("y",dB+13).attr("text-anchor","middle")
  .attr("font-size",10.5).attr("font-weight","bold").text(d=>d);
svg.append("text").attr("transform",`translate(83,${(dT+dB)/2}) rotate(-90)`).attr("text-anchor","middle")
  .attr("font-size",11.5).attr("font-weight","bold").text("-log10 (P value)");
svg.append("text").attr("x",418).attr("y",1045).attr("text-anchor","middle").attr("font-size",13).attr("font-weight","bold").text("Genomic Postion (kb)");
svg.append("rect").attr("x",660).attr("y",1028).attr("width",72).attr("height",20).attr("fill","#ebebeb");
svg.append("rect").attr("x",660).attr("y",1028).attr("width",7.5).attr("height",20).attr("fill","#00e8f8");
svg.append("text").attr("x",669).attr("y",1041).attr("font-size",8).text("Repeat Regions");
</script></body></html>
